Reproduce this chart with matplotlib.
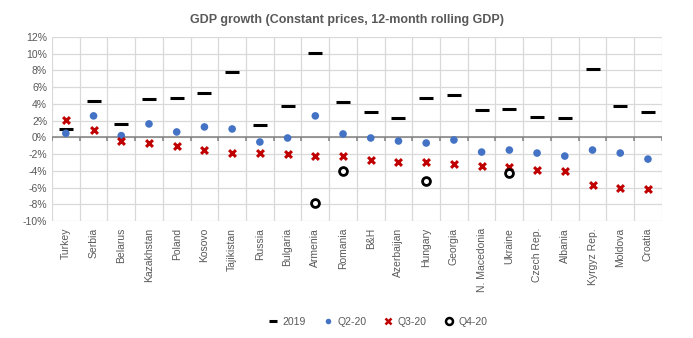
import numpy as np
import matplotlib
matplotlib.use('Agg')
import matplotlib.pyplot as plt
from matplotlib.lines import Line2D

plt.rcParams['font.family'] = ['Liberation Sans', 'DejaVu Sans']

# データ
countries = ['Turkey', 'Serbia', 'Belarus', 'Kazakhstan', 'Poland', 'Kosovo',
             'Tajikistan', 'Russia', 'Bulgaria', 'Armenia', 'Romania', 'B&H',
             'Azerbaijan', 'Hungary', 'Georgia', 'N. Macedonia', 'Ukraine',
             'Czech Rep.', 'Albania', 'Kyrgyz Rep.', 'Moldova', 'Croatia']
g2019 = [0.96, 4.32, 1.56, 4.56, 4.68, 5.28, 7.8, 1.44, 3.72, 10.08, 4.2, 3.0,
         2.28, 4.68, 5.04, 3.24, 3.36, 2.4, 2.28, 8.16, 3.72, 3.0]
q2_20 = [0.48, 2.56, 0.2, 1.6, 0.64, 1.24, 1.0, -0.56, -0.08, 2.56, 0.4, -0.08,
         -0.44, -0.68, -0.32, -1.76, -1.52, -1.88, -2.24, -1.52, -1.88, -2.6]
q3_20 = [2.04, 0.92, -0.44, -0.64, -1.0, -1.56, -1.84, -1.84, -1.96, -2.2, -2.2, -2.68,
         -2.92, -3.0, -3.16, -3.48, -3.6, -3.96, -4.08, -5.68, -6.0, -6.16]
# Q4-20 は一部の国のみ
q4_countries = ['Armenia', 'Romania', 'Hungary', 'Ukraine']
q4_20 = [-7.88, -4.04, -5.16, -4.28]

grid_c = '#d9d9d9'
text_c = '#595959'

fig = plt.figure(figsize=(6.93, 3.38), dpi=100)
ax = fig.add_axes([0.075, 0.346, 0.880, 0.545])

x = np.arange(len(countries))
x4 = [countries.index(c) for c in q4_countries]

ax.scatter(x, g2019, marker='_', s=90, linewidths=2.2, color='black', zorder=4)
ax.scatter(x, q2_20, marker='o', s=30, color='#4472C4', edgecolors='none', zorder=4)
ax.scatter(x, q3_20, marker='x', s=24, linewidths=2.2, color='#C00000', zorder=4)
ax.scatter(x4, q4_20, marker='o', s=32, facecolors='white', edgecolors='black',
           linewidths=2, zorder=5)

ax.set_xlim(-0.5, len(countries) - 0.5)
ax.set_ylim(-10, 12)
ax.set_yticks(np.arange(-10, 13, 2))
ax.set_yticklabels([f'{v}%' for v in range(-10, 13, 2)])
ax.set_xticks(x)
ax.set_xticklabels(countries, rotation=90)
ax.tick_params(axis='both', length=0, colors=text_c, labelsize=7.5)
ax.tick_params(axis='x', pad=5)

# グリッド
for v in range(-10, 13, 2):
    ax.axhline(v, color=grid_c, lw=0.9, zorder=1)
bounds = np.arange(len(countries) + 1) - 0.5
for b in bounds:
    ax.axvline(b, color=grid_c, lw=0.9, zorder=1)
ax.axhline(0, color='#808080', lw=1.1, zorder=2)
ax.vlines(bounds, -0.4, 0, color='#808080', lw=1.1, zorder=2)

for s in ax.spines.values():
    s.set_visible(False)

fig.suptitle('GDP growth (Constant prices, 12-month rolling GDP)', y=0.96,
             fontsize=9, fontweight='bold', color=text_c)

handles = [
    Line2D([], [], marker='_', ls='none', color='black', ms=6, mew=2.2),
    Line2D([], [], marker='o', ls='none', color='#4472C4', ms=4, mew=0),
    Line2D([], [], marker='x', ls='none', color='#C00000', ms=4, mew=1.8),
    Line2D([], [], marker='o', ls='none', mfc='white', mec='black', ms=5, mew=1.8),
]
fig.legend(handles, ['2019', 'Q2-20', 'Q3-20', 'Q4-20'], loc='center',
           bbox_to_anchor=(0.545, 0.047), ncol=4, frameon=False, fontsize=7.5,
           labelcolor=text_c, handlelength=1.0, handletextpad=0.4, columnspacing=1.6)

fig.savefig('out.png', dpi=100)
